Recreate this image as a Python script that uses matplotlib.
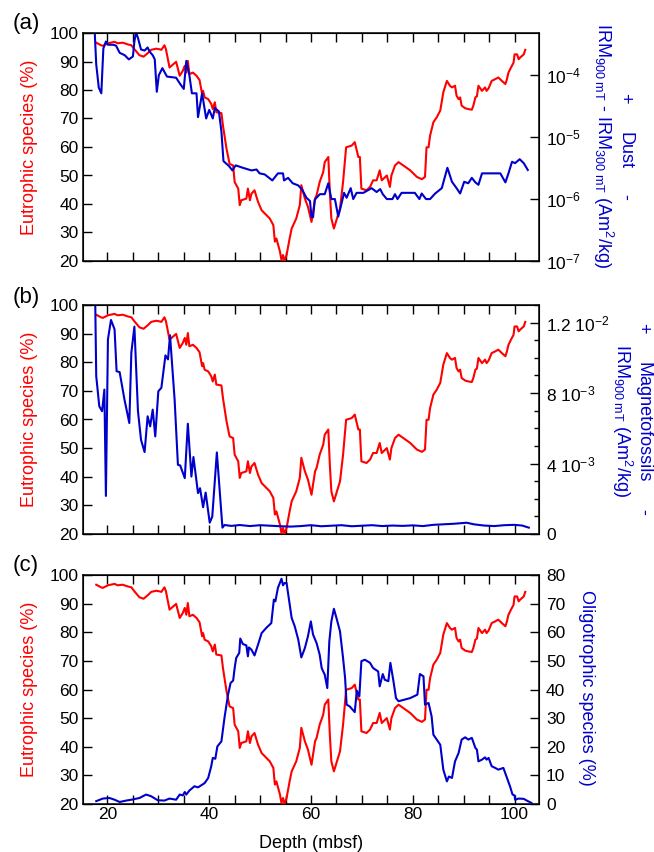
import matplotlib
matplotlib.use('Agg')
import matplotlib.pyplot as plt
import numpy as np

plt.rcParams['font.family'] = ['Liberation Sans', 'DejaVu Sans']
plt.rcParams['mathtext.fontset'] = 'custom'
plt.rcParams['mathtext.rm'] = 'Liberation Sans'
plt.rcParams['mathtext.it'] = 'Liberation Sans:italic'
plt.rcParams['mathtext.bf'] = 'Liberation Sans:bold'

RED = '#ff0000'
BLUE = '#0000cc'

# Eutrophic species (%) vs depth (mbsf)
eu_depth = [17.8, 18.75, 19.1, 20.1, 21.4, 22.0, 23.0, 24.0, 24.7, 25.3, 26.3, 27.1, 27.9, 28.6,
            29.6, 30.2, 30.6, 31.2, 31.5, 32.2, 33.5, 34.2, 34.8, 35.2, 35.5, 35.8, 36.1, 36.8,
            37.5, 38.1, 38.6, 38.8, 39.1, 39.8, 40.4, 40.7, 41.1, 41.4, 42.4, 42.7, 43.4, 44.0,
            44.7, 45.0, 45.7, 46.0, 46.3, 47.3, 47.6, 48.0, 48.3, 48.9, 49.6, 50.3, 51.9, 52.6,
            52.9, 53.2, 53.9, 54.2, 54.5, 54.8, 55.2, 55.8, 56.2, 57.1, 57.8, 58.1, 58.8, 59.4,
            60.1, 60.8, 61.1, 61.7, 62.4, 62.7, 63.4, 63.7, 64.0, 64.5, 65.7, 66.3, 66.9, 68.0,
            68.6, 69.3, 69.6, 69.9, 70.9, 71.6, 72.2, 72.9, 73.5, 73.9, 74.9, 75.5, 75.8, 76.5,
            77.2, 79.5, 80.8, 81.8, 82.4, 82.7, 83.1, 83.4, 84.05, 84.7, 85.4, 86.0, 86.7, 87.3,
            87.7, 88.3, 88.6, 89.0, 89.3, 89.6, 90.3, 90.9, 91.6, 91.9, 92.3, 92.6, 92.9, 93.6,
            94.2, 94.5, 94.9, 95.5, 96.2, 96.8, 97.5, 98.2, 98.5, 98.8, 99.3, 99.8, 100.0, 100.5,
            100.8, 101.1, 101.8, 102.1]
eu_pct = [96.6, 95.7, 95.5, 96.4, 96.9, 96.4, 96.6, 96.0, 95.7, 94.3, 92.2, 91.7, 92.9, 94.1,
          94.5, 94.3, 94.1, 95.7, 94.3, 87.9, 89.9, 85.0, 86.7, 88.5, 86.1, 90.2, 85.6, 86.1,
          85.0, 83.5, 78.6, 79.7, 77.4, 76.8, 75.1, 73.3, 75.7, 72.2, 71.9, 67.5, 59.4, 54.1,
          53.5, 47.7, 45.4, 39.6, 41.3, 41.9, 45.4, 41.3, 43.6, 44.8, 40.7, 37.8, 34.9, 32.6,
          26.8, 27.9, 23.3, 20.3, 22.1, 20.0, 22.1, 27.9, 31.4, 34.9, 39.6, 46.6, 41.9, 39.0,
          33.7, 41.9, 43.1, 47.7, 51.2, 54.7, 56.5, 44.2, 34.9, 31.4, 38.4, 47.7, 59.9, 60.5,
          61.7, 56.5, 56.5, 45.4, 44.8, 46.0, 48.3, 48.3, 51.8, 48.3, 50.0, 46.0, 50.0, 53.5,
          54.7, 51.8, 49.5, 48.7, 49.5, 59.9, 59.9, 64.0, 68.7, 70.4, 72.8, 79.2, 83.2, 81.5,
          80.9, 81.5, 78.0, 76.8, 77.4, 74.5, 73.6, 73.3, 73.1, 74.5, 77.4, 77.8, 81.5, 79.7,
          80.9, 79.7, 80.6, 83.2, 83.8, 84.4, 83.2, 82.1, 83.8, 86.1, 87.9, 89.6, 92.5, 92.5,
          90.8, 91.4, 92.5, 94.1]

# Dust proxy: IRM900mT - IRM300mT (Am2/kg)
dust_depth = [17.5, 17.8, 18.3, 18.8, 19.2, 19.7, 20.1, 21.1, 21.7, 22.4, 23.4, 24.2, 25.0, 25.3,
              25.6, 26.0, 26.6, 27.3, 27.9, 28.3, 28.9, 29.3, 29.7, 30.1, 30.8, 31.7, 33.5, 34.2,
              35.0, 35.5, 36.1, 36.6, 37.5, 37.8, 38.6, 39.4, 40.0, 40.7, 41.1, 41.9, 42.4, 42.8,
              43.9, 44.55, 45.2, 46.6, 48.3, 49.3, 49.9, 50.9, 52.4, 53.5, 54.5, 54.7, 55.5, 56.4,
              57.5, 58.3, 59.1, 59.8, 60.1, 60.4, 60.75, 61.74, 62.7, 63.4, 64.0, 64.7, 65.35, 66.0,
              66.5, 67.0, 67.8, 68.3, 68.96, 70.3, 71.9, 72.9, 73.6, 74.1, 74.9, 76.0, 76.5, 77.0,
              77.8, 80.4, 81.3, 81.75, 82.6, 83.4, 84.4, 85.7, 86.8, 87.7, 88.6, 89.3, 90.1, 90.9,
              91.6, 92.3, 92.9, 93.6, 97.2, 98.2, 98.8, 99.5, 100.1, 101.0, 101.8, 102.6]
dust_val = [5.0e-4, 1.5e-4, 6.3e-5, 5.1e-5, 2.7e-4, 3.5e-4, 3.1e-4, 3.1e-4, 3.0e-4, 2.3e-4, 2.1e-4,
            1.8e-4, 2.0e-4, 3.5e-4, 4.9e-4, 4.0e-4, 2.6e-4, 2.5e-4, 2.8e-4, 2.4e-4, 2.1e-4, 1.8e-4,
            5.4e-5, 1.0e-4, 1.3e-4, 9.5e-5, 9.1e-5, 7.4e-5, 6.0e-5, 1.7e-4, 1.0e-4, 5.1e-5, 5.1e-5,
            2.1e-5, 5.1e-5, 2.0e-5, 2.75e-5, 2.0e-5, 2.95e-5, 2.6e-5, 1.23e-5, 4.1e-6, 3.4e-6,
            2.9e-6, 3.5e-6, 3.2e-6, 2.9e-6, 3.0e-6, 2.6e-6, 2.5e-6, 2.0e-6, 2.6e-6, 2.6e-6, 2.0e-6,
            2.2e-6, 1.8e-6, 1.66e-6, 1.4e-6, 1.05e-6, 9.3e-7, 5.1e-7, 5.1e-7, 9.8e-7, 1.2e-6, 1.2e-6,
            1.8e-6, 1.0e-6, 1.0e-6, 5.2e-7, 8.5e-7, 1.26e-6, 1.05e-6, 1.5e-6, 1.0e-6, 1.26e-6,
            1.26e-6, 1.5e-6, 1.3e-6, 1.45e-6, 1.2e-6, 1.0e-6, 1.0e-6, 1.2e-6, 1.0e-6, 1.26e-6,
            1.26e-6, 1.0e-6, 1.23e-6, 1.0e-6, 1.0e-6, 1.23e-6, 1.5e-6, 3.2e-6, 1.9e-6, 1.5e-6,
            1.23e-6, 1.9e-6, 1.8e-6, 2.2e-6, 1.86e-6, 1.7e-6, 2.6e-6, 2.6e-6, 1.86e-6, 2.6e-6,
            4.0e-6, 3.8e-6, 4.4e-6, 3.8e-6, 2.95e-6]

# Magnetofossil proxy: IRM900mT (Am2/kg), in units of 1e-3
mag_depth = [17.6, 17.8, 18.4, 18.95, 19.4, 19.7, 20.1, 20.7, 21.4, 21.8, 22.4, 23.35, 24.3, 24.7,
             25.3, 26.0, 26.6, 27.3, 27.9, 28.4, 28.9, 29.4, 30.0, 30.6, 31.4, 31.9, 32.3, 33.2,
             33.85, 34.3, 35.2, 35.8, 36.5, 36.9, 37.8, 38.2, 38.8, 39.3, 40.1, 40.6, 41.5, 42.6,
             43.0, 44.35, 46.0, 48.0, 50.0, 52.0, 54.0, 56.0, 58.0, 60.0, 62.0, 64.0, 66.0, 68.0,
             70.0, 72.0, 74.0, 76.0, 78.0, 80.0, 82.0, 84.0, 86.0, 88.0, 90.6, 92.0, 94.0, 96.0,
             98.0, 100.0, 101.5, 102.8]
mag_val = [13.2, 8.96, 7.25, 6.97, 8.2, 2.16, 11.05, 12.15, 11.62, 9.24, 9.19, 7.63, 6.3, 10.29,
           11.77, 6.97, 5.35, 4.65, 6.68, 6.11, 7.06, 5.54, 8.1, 8.3, 10.14, 9.91, 11.28, 7.63,
           3.93, 3.89, 3.17, 6.26, 3.26, 4.37, 2.32, 2.6, 1.52, 2.35, 0.64, 0.99, 4.63, 0.36,
           0.51, 0.46, 0.51, 0.45, 0.50, 0.47, 0.44, 0.42, 0.45, 0.50, 0.44, 0.47, 0.50, 0.44,
           0.47, 0.50, 0.45, 0.48, 0.46, 0.49, 0.45, 0.52, 0.55, 0.58, 0.64, 0.55, 0.48, 0.45,
           0.50, 0.52, 0.48, 0.36]

# Oligotrophic species (%)
ol_depth = [17.8, 19.1, 20.4, 21.4, 22.4, 23.7, 24.7, 26.3, 27.6, 28.6, 29.9, 31.2, 32.2, 33.5,
            34.2, 34.8, 35.2, 35.5, 36.1, 37.1, 37.8, 38.4, 39.1, 39.8, 40.4, 40.7, 41.2, 41.6,
            42.4, 43.0, 43.7, 44.2, 44.7, 45.0, 45.3, 45.9, 46.1, 46.6, 47.3, 47.6, 47.8, 48.3,
            48.9, 49.6, 50.3, 51.2, 52.2, 52.7, 53.0, 53.5, 54.2, 54.5, 54.8, 55.2, 56.2, 56.8,
            57.5, 58.1, 58.8, 59.4, 59.97, 60.4, 61.1, 61.7, 62.1, 62.4, 62.7, 63.2, 63.6, 64.0,
            64.5, 65.0, 65.7, 66.3, 66.7, 67.0, 67.6, 68.6, 69.0, 69.5, 69.9, 70.6, 71.6, 72.2,
            73.2, 73.5, 74.1, 74.5, 75.2, 75.6, 76.2, 76.7, 77.2, 79.5, 80.9, 81.4, 82.1, 82.4,
            83.1, 83.7, 84.05, 84.7, 85.4, 86.0, 86.7, 87.1, 87.7, 88.3, 89.0, 89.6, 90.3, 90.9,
            91.6, 92.3, 92.6, 92.9, 93.6, 94.2, 94.5, 94.9, 95.5, 96.2, 96.8, 97.8, 98.5, 99.1,
            99.6, 100.0, 100.1, 100.8, 101.8, 102.4, 103.3]
ol_pct = [1.0, 1.9, 2.1, 1.5, 0.7, 1.2, 1.5, 2.1, 3.3, 2.7, 1.3, 1.2, 1.9, 1.5,
          3.3, 3.0, 4.2, 3.3, 4.7, 6.2, 5.8, 6.5, 7.3, 9.1, 13.2, 16.1, 15.8, 20.1,
          21.9, 30.1, 38.2, 42.3, 43.1, 47.5, 51.0, 52.8, 57.8, 55.9, 55.4, 51.6, 54.7, 53.9,
          51.9, 55.7, 59.7, 61.5, 63.2, 71.4, 70.8, 75.5, 78.7, 76.4, 77.2, 77.2, 65.0, 62.1,
          57.4, 51.2, 54.5, 58.6, 63.8, 59.2, 56.2, 52.2, 47.5, 46.3, 45.2, 40.5, 56.8, 63.8,
          68.2, 65.0, 60.3, 51.0, 44.0, 34.7, 34.1, 32.1, 39.6, 37.6, 49.9, 50.4, 49.3, 47.5,
          46.3, 41.1, 45.4, 43.4, 42.9, 49.3, 42.9, 37.0, 35.9, 37.0, 38.2, 45.4, 44.6, 34.7,
          35.3, 30.6, 24.2, 22.5, 20.7, 12.0, 7.9, 9.6, 9.1, 14.9, 17.8, 22.5, 23.3, 22.5,
          23.1, 19.6, 19.0, 14.9, 15.5, 16.3, 15.5, 16.1, 13.2, 12.6, 12.0, 12.6, 9.1, 6.2,
          3.3, 3.0, 1.5, 1.9, 1.8, 1.2, 0.4]

panel_tags = ['(a)', '(b)', '(c)']

fig = plt.figure(figsize=(6.54, 8.52), dpi=100)
W, H = 654.0, 852.0
x0, x1 = 83, 539
boxes = [(33, 261), (305, 534), (575, 804)]
axes = []
for top, bot in boxes:
    ax = fig.add_axes([x0 / W, 1 - bot / H, (x1 - x0) / W, (bot - top) / H])
    axes.append(ax)

for i, ax in enumerate(axes):
    ax.plot(eu_depth, eu_pct, color=RED, lw=1.5, zorder=3)
    ax.set_xlim(15.2, 104.8)
    ax.set_ylim(20, 100)
    ax.set_yticks(np.arange(20, 101, 10))
    ax.set_xticks([20, 40, 60, 80, 100])
    ax.set_xticks(np.arange(20, 105, 5), minor=True)
    ax.tick_params(axis='both', which='both', direction='in', length=6.5, width=1.0,
                   top=True, labelsize=12.5, pad=3)
    ax.tick_params(axis='x', pad=2)
    if i < 2:
        ax.tick_params(axis='x', labelbottom=False)
    for sp in ax.spines.values():
        sp.set_linewidth(1.1)
    fig.text(30 / W, 1 - (boxes[i][0] + boxes[i][1]) / 2 / H, 'Eutrophic species (%)',
             color=RED, fontsize=13, rotation=90, ha='center', va='center')

# (a) dust
axa = axes[0].twinx()
axa.plot(dust_depth, dust_val, color=BLUE, lw=1.5)
axa.set_yscale('log')
axa.set_ylim(1e-7, 4.8e-4)
axa.set_yticks([1e-7, 1e-6, 1e-5, 1e-4])
axa.set_yticklabels([r'10$^{-7}$', r'10$^{-6}$', r'10$^{-5}$', r'10$^{-4}$'])
axa.yaxis.set_minor_locator(matplotlib.ticker.NullLocator())

# (b) magnetofossils
axb = axes[1].twinx()
axb.plot(mag_depth, np.array(mag_val) * 1e-3, color=BLUE, lw=1.5)
axb.set_ylim(0, 0.0130)
axb.set_yticks([0, 0.004, 0.008, 0.012])
axb.set_yticklabels(['0', r'4 10$^{-3}$', r'8 10$^{-3}$', r'1.2 10$^{-2}$'])
axb.set_yticks(np.arange(0, 0.0131, 0.001), minor=True)

# (c) oligotrophic
axc = axes[2].twinx()
axc.plot(ol_depth, ol_pct, color=BLUE, lw=1.5)
axc.set_ylim(0, 80)
axc.set_yticks(np.arange(0, 81, 10))

for tw in (axa, axb, axc):
    tw.set_xlim(15.2, 104.8)
    tw.tick_params(axis='y', which='major', direction='in', length=6.5, width=1.0,
                   labelsize=12.5, pad=5)
    tw.tick_params(axis='y', which='minor', direction='in', length=3.5, width=1.0)

# right-hand labels
fig.text(603 / W, 1 - 146 / H, r'IRM$_{\mathrm{900\ mT}}$ - IRM$_{\mathrm{300\ mT}}$ (Am$^{2}$/kg)',
         color=BLUE, fontsize=13, rotation=-90, ha='center', va='center')
fig.text(625 / W, 1 - 98 / H, '+', color=BLUE, fontsize=13, rotation=-90, ha='center', va='center')
fig.text(625 / W, 1 - 150 / H, 'Dust', color=BLUE, fontsize=13, rotation=-90, ha='center', va='center')
fig.text(625 / W, 1 - 197 / H, '-', color=BLUE, fontsize=13, rotation=-90, ha='center', va='center')

fig.text(622 / W, 1 - 420 / H, r'IRM$_{\mathrm{900\ mT}}$ (Am$^{2}$/kg)',
         color=BLUE, fontsize=13, rotation=-90, ha='center', va='center')
fig.text(643 / W, 1 - 328 / H, '+', color=BLUE, fontsize=13, rotation=-90, ha='center', va='center')
fig.text(643 / W, 1 - 422 / H, 'Magnetofossils', color=BLUE, fontsize=13, rotation=-90,
         ha='center', va='center')
fig.text(643 / W, 1 - 512 / H, '-', color=BLUE, fontsize=13, rotation=-90, ha='center', va='center')

fig.text(587 / W, 1 - 688 / H, 'Oligotrophic species (%)', color=BLUE, fontsize=13,
         rotation=-90, ha='center', va='center')

for tag, yc in zip(panel_tags, [23, 297, 566]):
    fig.text(26 / W, 1 - yc / H, tag, fontsize=16, ha='center', va='center')

fig.text(311 / W, 1 - 843 / H, 'Depth (mbsf)', fontsize=13, ha='center', va='center')

fig.savefig('out.png', dpi=100)
